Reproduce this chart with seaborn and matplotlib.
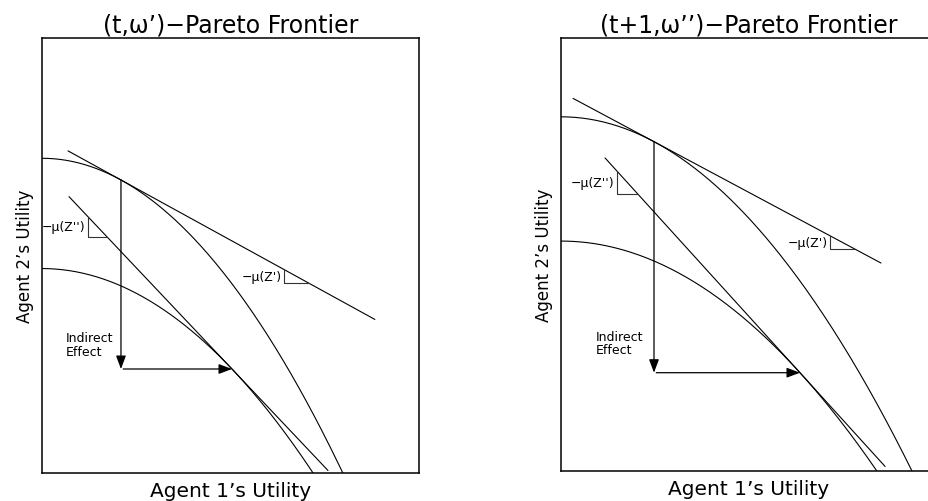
import numpy as np
import pandas as pd
import seaborn as sns
import matplotlib.pyplot as plt

# panel titles
titles = ["(t,ω’)−Pareto Frontier", "(t+1,ω’’)−Pareto Frontier"]

# frontiers (axes units 0..1)
outer_y0 = [0.7235, 0.818]   # height at agent 1 utility = 0
outer_x0 = [0.798, 0.9335]   # where it meets the x axis
inner_y0 = [0.470, 0.531]
inner_x0 = [0.719, 0.840]

# tangency points (agent 1 utility)
tan_outer = [0.2095, 0.2473]
tan_inner = [0.504, 0.6356]

# extent of the two tangent lines
upper_span = [(0.069, 0.883), (0.032, 0.851)]
lower_span = [(0.0716, 0.7586), (0.117, 0.862)]

# slope triangles (start x, end x)
tri_upper = [(0.642, 0.708), (0.715, 0.779)]
tri_lower = [(0.122, 0.1724), (0.149, 0.205)]

# text anchors
effect_xy = [(0.064, 0.295), (0.093, 0.296)]


def frontier(y0, x0, x):
    return y0 * (1 - (x / x0) ** 2)


def tangent(y0, x0, xt):
    yt = frontier(y0, x0, xt)
    k = -2 * y0 * xt / x0 ** 2
    return lambda x: yt + k * (np.asarray(x) - xt)


sns.set_style("white")
plt.rcParams['font.family'] = ['DejaVu Sans']
plt.rcParams['text.color'] = 'black'
plt.rcParams['axes.labelcolor'] = 'black'

fig = plt.figure(figsize=(9.29, 5.02), dpi=100)
ax_pos = [[0.0452, 0.0558, 0.4058, 0.8665],
          [0.6039, 0.0598, 0.4047, 0.8625]]

for i in range(2):
    ax = fig.add_axes(ax_pos[i])

    # frontiers
    for y0, x0 in [(outer_y0[i], outer_x0[i]), (inner_y0[i], inner_x0[i])]:
        xs = np.linspace(0, x0, 200)
        df = pd.DataFrame({"u1": xs, "u2": frontier(y0, x0, xs)})
        sns.lineplot(data=df, x="u1", y="u2", ax=ax, color="black", lw=0.8,
                     sort=False, estimator=None)

    # tangent lines
    f_up = tangent(outer_y0[i], outer_x0[i], tan_outer[i])
    f_lo = tangent(inner_y0[i], inner_x0[i], tan_inner[i])
    for f, span in [(f_up, upper_span[i]), (f_lo, lower_span[i])]:
        xs = np.array(span)
        sns.lineplot(x=xs, y=f(xs), ax=ax, color="black", lw=0.8,
                     sort=False, estimator=None)

    # slope triangles + labels
    for f, (xa, xb), lab in [(f_up, tri_upper[i], "−μ(Z')"),
                             (f_lo, tri_lower[i], "−μ(Z'')")]:
        ya, yb = float(f(xa)), float(f(xb))
        ax.plot([xa, xa, xb], [ya, yb, yb], color="#333333", lw=0.8)
        ax.text(xa - 0.006, (ya + yb) / 2, lab, ha="right", va="center",
                fontsize=9)

    # indirect effect arrows
    yo = frontier(outer_y0[i], outer_x0[i], tan_outer[i])
    yi = frontier(inner_y0[i], inner_x0[i], tan_inner[i])
    ap = dict(arrowstyle="-|>,head_length=0.8,head_width=0.3", color="black",
              lw=0.9, shrinkA=0, shrinkB=0, mutation_scale=10)
    ax.annotate("", xy=(tan_outer[i], yi), xytext=(tan_outer[i], yo), arrowprops=ap)
    ax.annotate("", xy=(tan_inner[i], yi), xytext=(tan_outer[i] + 0.006, yi), arrowprops=ap)
    ax.text(effect_xy[i][0], effect_xy[i][1], "Indirect\nEffect", ha="left",
            va="center", fontsize=9, linespacing=1.05)

    ax.set_xlim(0, 1)
    ax.set_ylim(0, 1)
    ax.set_xticks([])
    ax.set_yticks([])
    for s in ax.spines.values():
        s.set_color("black")
        s.set_linewidth(1.1)
    ax.set_title(titles[i], fontsize=17, pad=5, color="black")
    ax.set_xlabel("Agent 1’s Utility", fontsize=14.5, labelpad=6)
    ax.set_ylabel("Agent 2’s Utility", fontsize=12, labelpad=6)

fig.savefig("out.png", dpi=100)
